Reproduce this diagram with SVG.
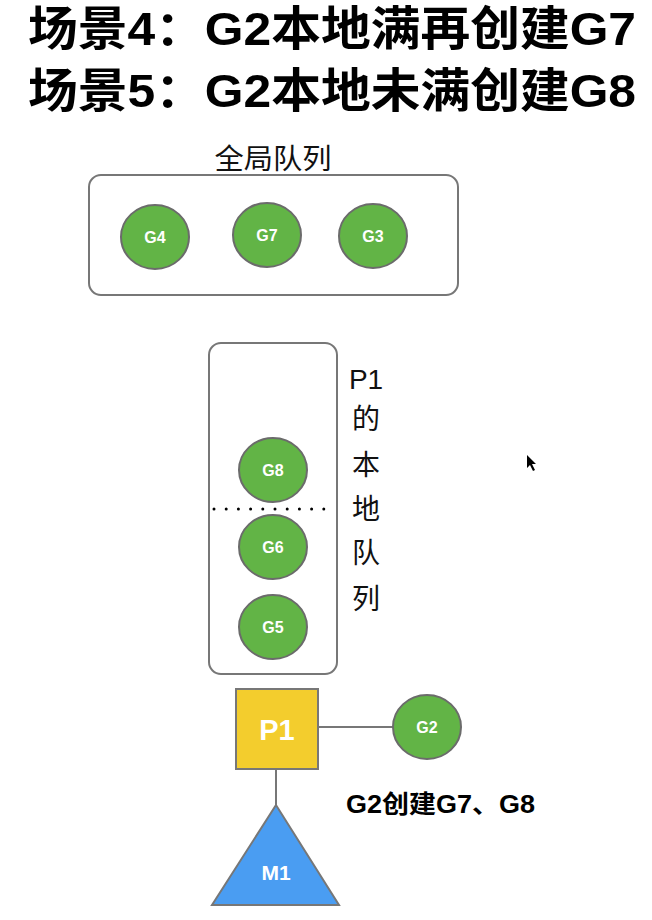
<svg xmlns="http://www.w3.org/2000/svg" width="652" height="920" viewBox="0 0 652 920">
<style>
.title{font-family:"Liberation Sans","Noto Sans CJK SC",sans-serif;font-weight:bold;font-size:47px;fill:#000}
.lbl{font-family:"Liberation Sans","Noto Sans CJK SC",sans-serif;font-size:28px;fill:#111}
.g{fill:#62B446;stroke:#6b6b6b;stroke-width:2}
.gt{font-family:"Liberation Sans",Arial,sans-serif;font-weight:bold;font-size:16px;fill:#fff;text-anchor:middle}
.box{fill:#fff;stroke:#777;stroke-width:2}
.conn{stroke:#777;stroke-width:2;fill:none}
</style>
<rect width="652" height="920" fill="#fff"/>
<text class="title" x="28" y="45" textLength="608" lengthAdjust="spacingAndGlyphs">场景4：G2本地满再创建G7</text>
<text class="title" x="28" y="107" textLength="608" lengthAdjust="spacingAndGlyphs">场景5：G2本地未满创建G8</text>
<g id="global-queue">
<text class="lbl" x="273" y="169" text-anchor="middle" textLength="117" lengthAdjust="spacingAndGlyphs">全局队列</text>
<rect class="box" x="89" y="175" width="369" height="120" rx="12"/>
</g>
<g id="G4"><ellipse class="g" cx="155" cy="237" rx="34" ry="32"/><text class="gt" x="155" y="243">G4</text></g>
<g id="G7"><ellipse class="g" cx="267" cy="235" rx="34" ry="32"/><text class="gt" x="267" y="241">G7</text></g>
<g id="G3"><ellipse class="g" cx="373" cy="236" rx="34" ry="32"/><text class="gt" x="373" y="242">G3</text></g>
<g id="local-queue">
<rect class="box" x="209" y="343" width="128" height="331" rx="12"/>
<line x1="214" y1="509" x2="326" y2="509" stroke="#000" stroke-width="3" stroke-linecap="round" stroke-dasharray="0 12.2"/>
<g class="lbl" text-anchor="middle">
<text x="366" y="389">P1</text>
<text x="366" y="429">的</text>
<text x="366" y="475">本</text>
<text x="366" y="519">地</text>
<text x="366" y="563">队</text>
<text x="366" y="609">列</text>
</g>
</g>
<g id="G8"><ellipse class="g" cx="273" cy="470" rx="34" ry="32"/><text class="gt" x="273" y="476">G8</text></g>
<g id="G6"><ellipse class="g" cx="273" cy="547" rx="34" ry="32"/><text class="gt" x="273" y="553">G6</text></g>
<g id="G5"><ellipse class="g" cx="273" cy="627" rx="34" ry="32"/><text class="gt" x="273" y="633">G5</text></g>
<g id="connectors">
<line class="conn" x1="318" y1="727" x2="393" y2="727"/>
<line class="conn" x1="276" y1="769" x2="276" y2="805"/>
</g>
<g id="P1">
<rect x="236" y="689" width="82" height="80" fill="#F3CD2D" stroke="#777" stroke-width="2"/>
<text x="277" y="740" text-anchor="middle" font-family="Liberation Sans,Arial,sans-serif" font-weight="bold" font-size="29" fill="#fff">P1</text>
</g>
<g id="G2"><ellipse class="g" cx="427" cy="727" rx="34" ry="32"/><text class="gt" x="427" y="733">G2</text></g>
<g id="M1">
<polygon points="276,805 212,905 339,905" fill="#4A9DF2" stroke="#777" stroke-width="2"/>
<text x="276" y="880" text-anchor="middle" font-family="Liberation Sans,Arial,sans-serif" font-weight="bold" font-size="21" fill="#fff">M1</text>
</g>
<text x="346" y="813" font-family="Liberation Sans,Noto Sans CJK SC,sans-serif" font-weight="bold" font-size="25" fill="#000" textLength="189" lengthAdjust="spacingAndGlyphs">G2创建G7、G8</text>
<path d="M527,455 L527,468 L530,465 L533,471 L535,470 L532,464 L536,464 Z" fill="#000"/>
</svg>
